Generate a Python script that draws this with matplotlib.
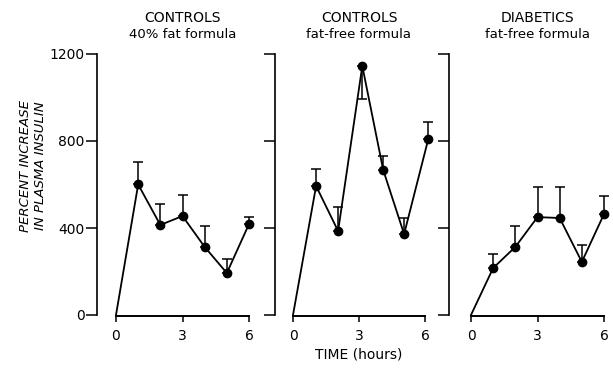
import matplotlib
matplotlib.use("Agg")
import matplotlib.pyplot as plt

# hours after the meal
t_ctrl40 = [0, 1, 2, 3, 4, 5, 6]
t_ctrlff = [0, 1.05, 2.05, 3.15, 4.1, 5.05, 6.15]
t_diab = [0, 1, 2, 3, 4, 5, 6]

# percent increase in plasma insulin (mean) and SE
ctrl40 = [0, 600, 414, 455, 313, 193, 418]
ctrl40_se = [0, 103, 96, 97, 96, 65, 33]
ctrlff = [0, 593, 386, 1145, 667, 372, 809]
ctrlff_se = [0, 78, 111, 152, 64, 72, 78]
diab = [0, 216, 313, 450, 446, 244, 464]
diab_se = [0, 64, 96, 139, 143, 78, 83]

# which way each error bar points (True = down)
ctrlff_down = [False, False, False, True, False, False, False]

titles = [("CONTROLS", "40% fat formula"),
          ("CONTROLS", "fat-free formula"),
          ("DIABETICS", "fat-free formula")]

W, H = 613, 368
fig = plt.figure(figsize=(W / 100, H / 100), dpi=100)
plt.rcParams['font.family'] = ['DejaVu Sans']

# pixel positions of y-axis line, x=0 and x=6 for each panel
layout = [(97, 116, 249), (275, 293, 425), (449, 471, 604)]
y0_px, ytop_px = 315, 54

panels = [
    (t_ctrl40, ctrl40, ctrl40_se, [False] * 7),
    (t_ctrlff, ctrlff, ctrlff_se, ctrlff_down),
    (t_diab, diab, diab_se, [False] * 7),
]

for i, ((tx, y, se, down), (ya, x0, x6), (t1, t2)) in enumerate(zip(panels, layout, titles)):
    unit = (x6 - x0) / 6
    xl = (ya - x0) / unit
    xr = 6.35
    ax = fig.add_axes([ya / W, (H - y0_px) / H, (xr - xl) * unit / W, (y0_px - ytop_px) / H])
    ax.set_xlim(xl, xr)
    ax.set_ylim(0, 1200)

    lower = [s if d else 0 for s, d in zip(se, down)]
    upper = [0 if d else s for s, d in zip(se, down)]
    ax.errorbar(tx[1:], y[1:], yerr=[lower[1:], upper[1:]], fmt='none',
                ecolor='black', elinewidth=1.1, capsize=3.5, capthick=1.1, clip_on=False)
    ax.plot(tx, y, color='black', lw=1.3, clip_on=False)
    ax.plot(tx[1:], y[1:], 'o', color='black', ms=6, clip_on=False)

    for s in ['top', 'right']:
        ax.spines[s].set_visible(False)
    ax.spines['left'].set_bounds(0, 1200)
    ax.spines['left'].set_linewidth(1.2)
    ax.spines['bottom'].set_bounds(0, 6)
    ax.spines['bottom'].set_linewidth(1.4)
    ax.spines['bottom'].set_position(('outward', 1))

    ax.set_yticks([0, 400, 800, 1200])
    ax.set_xticks([0, 3, 6])
    ax.tick_params(axis='y', direction='out', length=8, width=1.1, labelsize=10, pad=1)
    ax.tick_params(axis='x', direction='out', length=4, width=1.1, labelsize=10, pad=5)
    if i > 0:
        ax.set_yticklabels([])
    else:
        ax.set_yticklabels(['0', '400', '800', '1200'])

    cx = (x0 + x6) / 2 / W
    fig.text(cx, 1 - 18 / H, t1, ha='center', va='center', fontsize=10)
    fig.text(cx, 1 - 34 / H, t2, ha='center', va='center', fontsize=9.5)

fig.text(33 / W, 1 - 166 / H, "PERCENT INCREASE\nIN PLASMA INSULIN", rotation=90,
         ha='center', va='center', fontsize=9.5, style='italic', linespacing=1.1)
fig.text(359 / W, 1 - 355 / H, "TIME (hours)", ha='center', va='center', fontsize=10)

fig.savefig("out.png", dpi=100)
